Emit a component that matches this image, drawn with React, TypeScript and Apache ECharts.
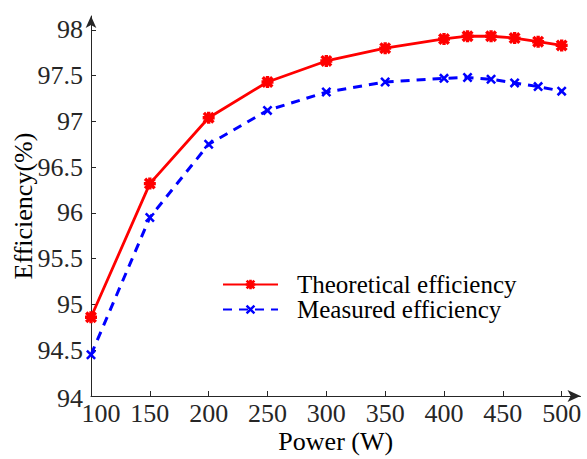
import React, { useEffect, useRef } from "react";
import * as echarts from "echarts";

const power = [100, 150, 200, 250, 300, 350, 400, 420, 440, 460, 480, 500];
const theoretical = [94.86, 96.32, 97.04, 97.43, 97.66, 97.8, 97.9, 97.93, 97.93, 97.91, 97.87, 97.83];
const measured = [94.45, 95.95, 96.75, 97.12, 97.32, 97.43, 97.47, 97.48, 97.46, 97.42, 97.38, 97.33];
const xTicks = [100, 150, 200, 250, 300, 350, 400, 450, 500];
const yTicks = [94, 94.5, 95, 95.5, 96, 96.5, 97, 97.5, 98];
const seriesNames = ["Theoretical efficiency", "Measured efficiency"];

const ASTERISK =
  "path://M0 3.6L10 3.6L10 6.4L0 6.4Z M3.6 0L6.4 0L6.4 10L3.6 10Z M2 0L10 8L8 10L0 2Z M8 0L10 2L2 10L0 8Z";
const CROSS = "path://M1.8 0L10 8.2L8.2 10L0 1.8Z M8.2 0L10 1.8L1.8 10L0 8.2Z";

const FONT = "Liberation Serif";
const X_MIN = 100;
const Y_MIN = 94;

export default function App() {
  const ref = useRef<HTMLDivElement>(null);
  useEffect(() => {
    if (!ref.current) return;
    const chart = echarts.init(ref.current, null, { renderer: "svg" });
    const pair = (ys: number[]) => power.map((p, i) => [p, ys[i]]);
    chart.setOption({
      animation: false,
      backgroundColor: "#ffffff",
      textStyle: { fontFamily: FONT },
      grid: { left: 91, top: 16, right: 6.5, bottom: 59, containLabel: false },
      legend: {
        orient: "vertical",
        left: 222,
        top: 272,
        padding: 0,
        itemGap: 0,
        itemWidth: 55,
        itemHeight: 12,
        data: seriesNames,
        textStyle: {
          fontFamily: FONT,
          fontSize: 25,
          color: "#000",
          lineHeight: 25,
          padding: [0, 0, 0, 14],
        },
      },
      xAxis: {
        type: "value",
        min: X_MIN,
        max: 516,
        interval: 50,
        name: "Power (W)",
        nameLocation: "middle",
        nameGap: 32,
        nameTextStyle: { fontFamily: FONT, fontSize: 26, color: "#000" },
        axisLine: {
          show: true,
          symbol: ["none", "arrow"],
          symbolSize: [9, 13],
          lineStyle: { color: "#262626", width: 1 },
        },
        axisTick: {
          show: true,
          inside: true,
          length: 5,
          customValues: xTicks,
          lineStyle: { color: "#262626" },
        },
        axisLabel: { show: false },
        splitLine: { show: false },
      },
      yAxis: {
        type: "value",
        min: Y_MIN,
        max: 98.151,
        interval: 0.5,
        name: "Efficiency(%)",
        nameLocation: "middle",
        nameGap: 55,
        nameRotate: 90,
        nameTextStyle: { fontFamily: FONT, fontSize: 26, color: "#000" },
        axisLine: {
          show: true,
          symbol: ["none", "arrow"],
          symbolSize: [8, 12],
          lineStyle: { color: "#262626", width: 1 },
        },
        axisTick: {
          show: true,
          inside: true,
          length: 5,
          customValues: yTicks,
          lineStyle: { color: "#262626" },
        },
        axisLabel: { show: false },
        splitLine: { show: false },
      },
      series: [
        {
          name: seriesNames[0],
          type: "line",
          data: pair(theoretical),
          symbol: ASTERISK,
          symbolSize: 12,
          itemStyle: { color: "#ff0000" },
          lineStyle: { color: "#ff0000", width: 2.8, type: "solid" },
        },
        {
          name: seriesNames[1],
          type: "line",
          data: pair(measured),
          symbol: CROSS,
          symbolSize: 10,
          itemStyle: { color: "#0000ff" },
          lineStyle: { color: "#0000ff", width: 3, type: [9, 7] },
        },
      ],
    });

    const labels: any[] = [];
    xTicks.forEach((v) => {
      const p = chart.convertToPixel({ gridIndex: 0 }, [v, Y_MIN]) as number[];
      labels.push({
        type: "text",
        x: p[0] + (v === X_MIN ? 10 : 0),
        y: p[1] + 4,
        silent: true,
        style: {
          text: String(v),
          fontFamily: FONT,
          fontSize: 26,
          fill: "#262626",
          align: "center",
          verticalAlign: "top",
        },
      });
    });
    yTicks.forEach((v) => {
      const p = chart.convertToPixel({ gridIndex: 0 }, [X_MIN, v]) as number[];
      labels.push({
        type: "text",
        x: p[0] - 8,
        y: p[1] + (v === Y_MIN ? 2 : 0),
        silent: true,
        style: {
          text: String(v),
          fontFamily: FONT,
          fontSize: 26,
          fill: "#262626",
          align: "right",
          verticalAlign: "middle",
        },
      });
    });
    chart.setOption({ graphic: labels });

    return () => chart.dispose();
  }, []);
  return <div ref={ref} style={{ width: 587, height: 459, position: "absolute", left: 0, top: 0 }} />;
}
